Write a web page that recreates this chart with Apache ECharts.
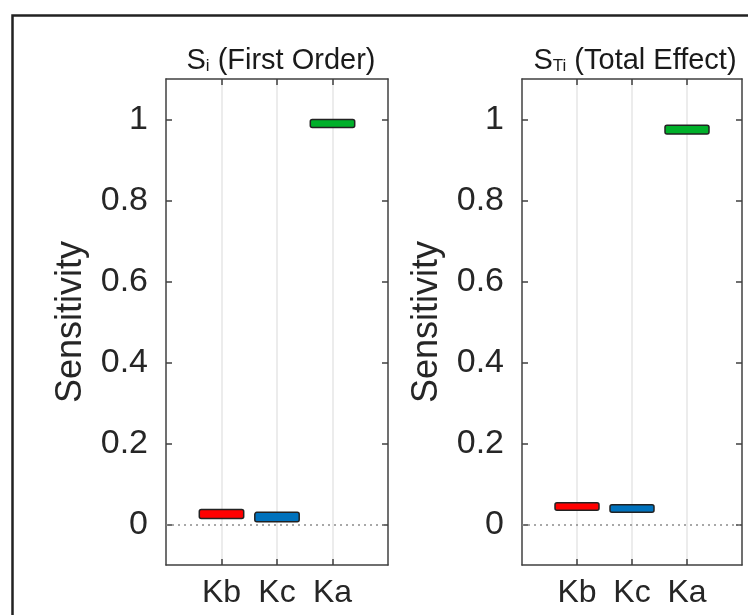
<!DOCTYPE html>
<html>
<head>
<meta charset="utf-8">
<script src="https://cdn.jsdelivr.net/npm/echarts@6/dist/echarts.min.js"></script>
<style>
html,body{margin:0;padding:0;background:#fff;}
#c{width:748px;height:615px;}
</style>
</head>
<body>
<div id="c"></div>
<script>
const categories = ['Kb', 'Kc', 'Ka'];
const categoryPos = [1, 2, 3];
const firstLow = [0.015, 0.007, 0.980];
const firstHigh = [0.037, 0.030, 1.000];
const totalLow = [0.035, 0.030, 0.964];
const totalHigh = [0.054, 0.049, 0.986];
const yTicks = [0, 0.2, 0.4, 0.6, 0.8, 1];
const barColors = ['#ff0000', '#0072bd', '#00b02a'];

const FONT = '"Liberation Sans", Arial, sans-serif';
const AX = '#404040';
const TXT = '#262626';

function seriesData(lo, hi) {
  return categoryPos.map((x, i) => [x, lo[i], hi[i], i]);
}
function renderBar(params, api) {
  const x = api.value(0), lo = api.value(1), hi = api.value(2), idx = api.value(3);
  const p1 = api.coord([x - 0.4, hi]);
  const p2 = api.coord([x + 0.4, lo]);
  return {
    type: 'rect',
    shape: { x: p1[0], y: p1[1], width: p2[0] - p1[0], height: p2[1] - p1[1], r: 2 },
    style: { fill: barColors[idx], stroke: '#222', lineWidth: 1.5 }
  };
}
function xAxisBottom(gi) {
  return {
    type: 'value', gridIndex: gi, position: 'bottom', min: 0, max: 4, interval: 1,
    axisLine: { show: true, onZero: false, lineStyle: { color: AX, width: 1.5 } },
    axisTick: { show: true, inside: true, length: 6, customValues: categoryPos, lineStyle: { color: AX, width: 1.5 } },
    axisLabel: { show: true, customValues: categoryPos, formatter: v => categories[Math.round(v) - 1] || '',
      color: TXT, fontFamily: FONT, fontSize: 32, margin: 12 },
    splitLine: { show: true, lineStyle: { color: '#e6e6e6', width: 1.5 } }
  };
}
function xAxisTop(gi) {
  return {
    type: 'value', gridIndex: gi, position: 'top', min: 0, max: 4, interval: 1,
    axisLine: { show: true, onZero: false, lineStyle: { color: AX, width: 1.5 } },
    axisTick: { show: true, inside: true, length: 6, customValues: categoryPos, lineStyle: { color: AX, width: 1.5 } },
    axisLabel: { show: false }, splitLine: { show: false }
  };
}
function yAxisLeft(gi) {
  return {
    type: 'value', gridIndex: gi, position: 'left', min: -0.1, max: 1.1,
    name: 'Sensitivity', nameLocation: 'middle', nameGap: 77, nameRotate: 90,
    nameTextStyle: { color: TXT, fontFamily: FONT, fontSize: 36 },
    axisLine: { show: true, onZero: false, lineStyle: { color: AX, width: 1.5 } },
    axisTick: { show: true, inside: true, length: 6, customValues: yTicks, lineStyle: { color: AX, width: 1.5 } },
    axisLabel: { show: true, customValues: yTicks, color: TXT, fontFamily: FONT, fontSize: 34, margin: 18 },
    splitLine: { show: false }
  };
}
function yAxisRight(gi) {
  return {
    type: 'value', gridIndex: gi, position: 'right', min: -0.1, max: 1.1,
    axisLine: { show: true, onZero: false, lineStyle: { color: AX, width: 1.5 } },
    axisTick: { show: true, inside: true, length: 6, customValues: yTicks, lineStyle: { color: AX, width: 1.5 } },
    axisLabel: { show: false }, splitLine: { show: false }
  };
}
const zeroLine = {
  silent: true, symbol: 'none', label: { show: false },
  lineStyle: { type: [2, 4], color: '#8c8c8c', width: 1.5 },
  data: [{ yAxis: 0 }]
};
const titleRich = {
  m: { fontFamily: FONT, fontSize: 29, fontWeight: 'normal', color: '#1a1a1a' },
  s: { fontFamily: FONT, fontSize: 17, fontWeight: 'normal', color: '#1a1a1a', verticalAlign: 'bottom', padding: [9, 0, 0, 0] }
};

const chart = echarts.init(document.getElementById('c'), null, { renderer: 'canvas' });
chart.setOption({
  backgroundColor: '#ffffff',
  animation: false,
  title: [
    { text: '{m|S}{s|i}{m| (First Order)}', left: 276, top: 41, textAlign: 'center',
      textStyle: { fontWeight: 'normal', rich: titleRich } },
    { text: '{m|S}{s|Ti}{m| (Total Effect)}', left: 630, top: 41, textAlign: 'center',
      textStyle: { fontWeight: 'normal', rich: titleRich } }
  ],
  grid: [
    { left: 166, top: 79, width: 222, height: 486 },
    { left: 522, top: 79, width: 220, height: 486 }
  ],
  xAxis: [xAxisBottom(0), xAxisTop(0), xAxisBottom(1), xAxisTop(1)],
  yAxis: [yAxisLeft(0), yAxisRight(0), yAxisLeft(1), yAxisRight(1)],
  graphic: [
    { type: 'rect', left: 10, top: 13, shape: { width: 800, height: 700 }, z: 100, silent: true,
      style: { fill: 'none', stroke: '#222', lineWidth: 2.5 } }
  ],
  series: [
    { type: 'custom', xAxisIndex: 0, yAxisIndex: 0, data: seriesData(firstLow, firstHigh), renderItem: renderBar, z: 5, markLine: zeroLine },
    { type: 'custom', xAxisIndex: 2, yAxisIndex: 2, data: seriesData(totalLow, totalHigh), renderItem: renderBar, z: 5, markLine: zeroLine }
  ]
});
</script>
</body>
</html>
